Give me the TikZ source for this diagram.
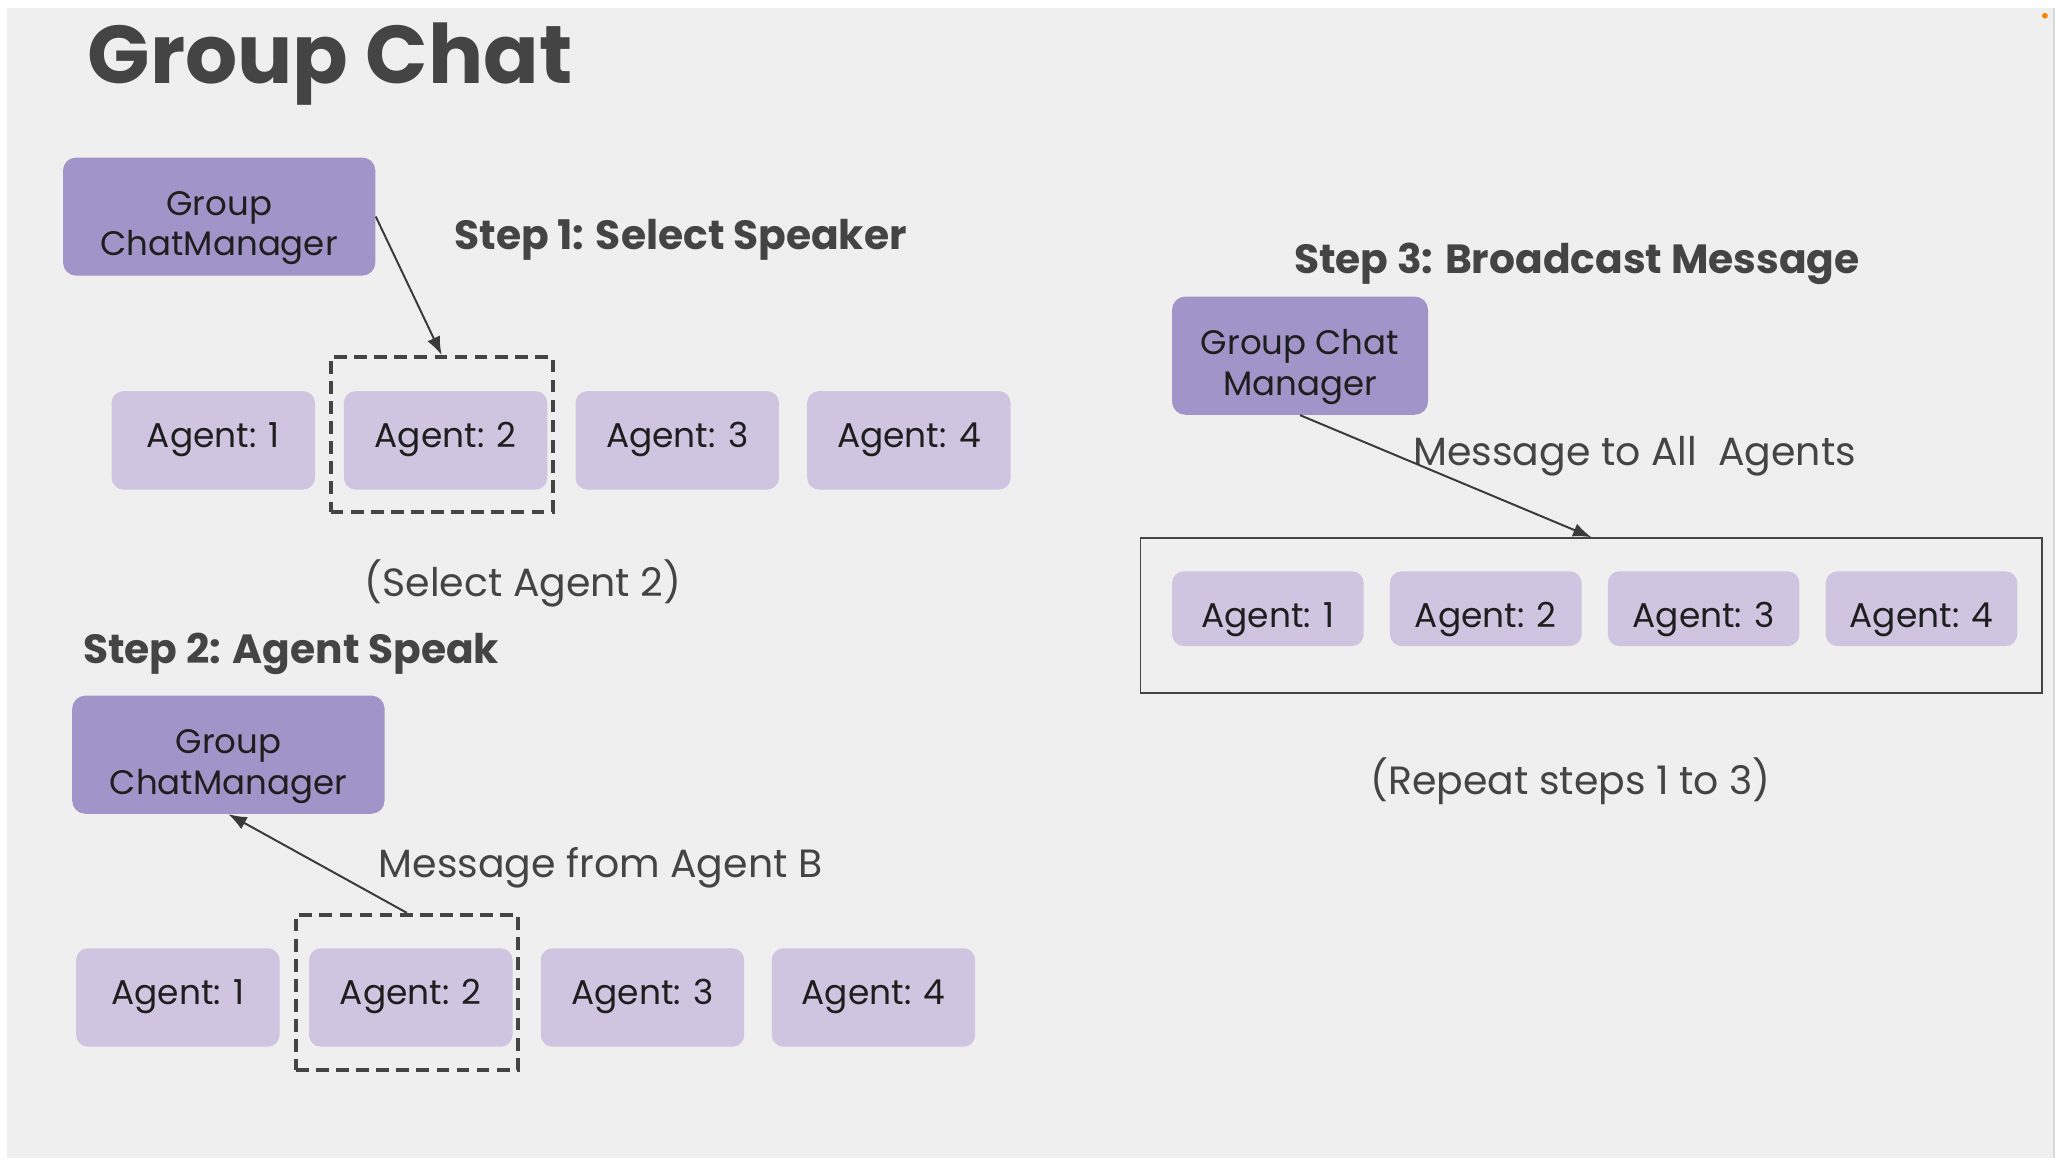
\documentclass[tikz,border=0pt]{standalone}
\usepackage{fontspec}
\setmainfont{Poppins}
\usetikzlibrary{arrows.meta}
\newcommand\myu{0.65625pt}
\newcommand\twolines[2]{\raisebox{0pt}[8.7pt][10pt]{\begin{tabular}[t]{@{}c@{}}#1\\#2\end{tabular}}}
\definecolor{bgc}{HTML}{EFEFEF}
\definecolor{mgr}{HTML}{A194C8}
\definecolor{agt}{HTML}{CFC5E0}
\definecolor{ink}{HTML}{444444}
\definecolor{txt}{HTML}{1E1E1E}
\tikzset{
  mgrbox/.style={fill=mgr, rounded corners=10*\myu, minimum width=238*\myu, minimum height=90*\myu, text=txt, font=\fontsize{17}{20.34}\selectfont, inner sep=0pt},
  agentbox/.style={fill=agt, rounded corners=9*\myu, minimum width=155*\myu, minimum height=75*\myu, text=txt, font=\fontsize{17.2}{20}\selectfont, inner sep=0pt, text height=7.2pt, text depth=0pt},
  agentsm/.style={agentbox, minimum width=146*\myu, minimum height=57*\myu, text height=18.9pt},
  dashbox/.style={draw=ink, line width=3*\myu, dash pattern=on 9.7*\myu off 5.6*\myu, minimum width=169*\myu, minimum height=118*\myu, inner sep=0pt},
  steptitle/.style={text=ink, font=\fontsize{20.4}{23}\selectfont\bfseries, inner sep=0pt, anchor=base},
  note/.style={text=ink, font=\fontsize{19.7}{23}\selectfont, inner sep=0pt, anchor=base},
  conn/.style={draw=ink!85!black, line width=1.5*\myu, -{Latex[length=14*\myu, width=10.5*\myu]}},
}
\begin{document}
\begin{tikzpicture}[x=\myu, y=-\myu]
\useasboundingbox (0,0) rectangle (1568,885.33);
\fill[white] (0,0) rectangle (1568,885.33);
\fill[bgc] (5,6) rectangle (1565,882);
\draw[black!15, line width=1*\myu] (1565,6) -- (1565,882);
\fill[orange] (1558,12) circle (2.2);
% title
\node[text=ink, font=\fontsize{41}{46}\selectfont\bfseries, anchor=base west, inner sep=0pt] (title) at (66.5,63.5) {Group Chat};
% step 1
\node[mgrbox] (gcm1) at (167,165) {\twolines{Group}{ChatManager}};
\node[steptitle] (st1) at (518.5,190) {Step 1: Select Speaker};
\node[agentbox] (a11) at (162.5,335.5) {Agent: 1};
\node[agentbox] (a12) at (339.5,335.5) {Agent: 2};
\node[agentbox] (a13) at (516,335.5) {Agent: 3};
\node[agentbox] (a14) at (692.5,335.5) {Agent: 4};
\node[dashbox] (d1) at (336.5,331) {};
\node[note] (sel) at (398.5,454.6) {(Select Agent 2)};
\draw[conn] (gcm1.east) -- (d1.north);
% step 2
\node[steptitle, anchor=base west] (st2) at (63,505.7) {Step 2: Agent Speak};
\node[mgrbox] (gcm2) at (174,575) {\twolines{Group}{ChatManager}};
\node[agentbox] (a21) at (135.5,760) {Agent: 1};
\node[agentbox] (a22) at (313,760) {Agent: 2};
\node[agentbox] (a23) at (489.5,760) {Agent: 3};
\node[agentbox] (a24) at (665.5,760) {Agent: 4};
\node[dashbox] (d2) at (310,756) {};
\node[note] (mfa) at (457.5,668.8) {Message from Agent B};
\draw[conn] (d2.north) -- (gcm2.south);
% step 3
\node[steptitle] (st3) at (1201.5,208.5) {Step 3: Broadcast Message};
\node[mgrbox, minimum width=195*\myu] (gcm3) at (990.5,271) {\twolines{Group Chat}{Manager}};
\node[draw=ink, line width=1.4*\myu, minimum width=687*\myu, minimum height=118*\myu, inner sep=0pt] (all) at (1212.5,469) {};
\node[agentsm] (a31) at (966,463.75) {Agent: 1};
\node[agentsm] (a32) at (1132,463.75) {Agent: 2};
\node[agentsm] (a33) at (1298,463.75) {Agent: 3};
\node[agentsm] (a34) at (1464,463.75) {Agent: 4};
\node[note] (mta) at (1245.5,354.3) {Message to All\ \ Agents};
\draw[conn] (gcm3.south) -- (all.north);
\node[note] (rep) at (1196.5,605.2) {(Repeat steps 1 to 3)};
\end{tikzpicture}
\end{document}
